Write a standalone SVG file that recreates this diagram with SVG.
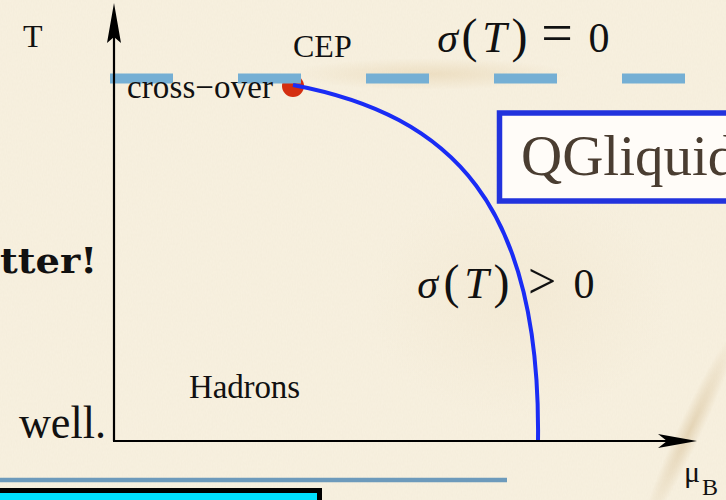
<svg xmlns="http://www.w3.org/2000/svg" width="726" height="500" viewBox="0 0 726 500">
  <style>
    .lbl { font-family: "Liberation Serif", "Times New Roman", serif; fill: #111; }
    .math { font-family: "Liberation Serif", "Times New Roman", serif; fill: #111; text-anchor: middle; }
    .it { font-style: italic; }
    .axis { stroke: #000; stroke-width: 2.2; fill: none; }
  </style>
  <defs>
    <filter id="paper" x="0" y="0" width="100%" height="100%">
      <feTurbulence type="fractalNoise" baseFrequency="0.8 0.35" numOctaves="2" seed="4" result="n"/>
      <feColorMatrix in="n" type="matrix" values="0 0 0 0 0.6  0 0 0 0 0.52  0 0 0 0 0.38  0 0 0 0.09 0"/>
    </filter>
    <radialGradient id="stain1" cx="0.5" cy="0.5" r="0.5">
      <stop offset="0" stop-color="#dcc08e" stop-opacity="0.35"/>
      <stop offset="1" stop-color="#dcc08e" stop-opacity="0"/>
    </radialGradient>
    <radialGradient id="stain2" cx="0.5" cy="0.5" r="0.5">
      <stop offset="0" stop-color="#c9ab78" stop-opacity="0.4"/>
      <stop offset="1" stop-color="#c9ab78" stop-opacity="0"/>
    </radialGradient>
  </defs>

  <!-- background -->
  <rect width="726" height="500" fill="#f8f1e0"/>
  <ellipse cx="430" cy="74" rx="140" ry="16" fill="url(#stain1)"/>
  <ellipse cx="0" cy="0" rx="12" ry="110" fill="url(#stain2)" transform="translate(690,430) rotate(25)"/>
  <ellipse cx="520" cy="300" rx="150" ry="120" fill="url(#stain1)" opacity="0.3"/>
  <rect width="726" height="500" filter="url(#paper)"/>

  <!-- connectors / lines -->
  <g id="connectors">
    <circle id="cep-dot" cx="293" cy="86" r="11" fill="#d42e10"/>
    <line id="crossover-line" x1="110" y1="78.5" x2="726" y2="78.5" stroke="#75afd4" stroke-width="10" stroke-dasharray="63 65"/>
    <path id="transition-curve" d="M293,85 C452,115 541,205 538,441" fill="none" stroke="#1a2cf5" stroke-width="4"/>
    <line id="y-axis" class="axis" x1="114" y1="441" x2="114" y2="20"/>
    <path d="M114,3 L121,43 L114,37 L107,43 Z" fill="#000"/>
    <line id="x-axis" class="axis" x1="113" y1="441" x2="680" y2="441"/>
    <path d="M697,441 L658,434 L667,441 L658,448 Z" fill="#000"/>
    <line x1="0" y1="480" x2="507" y2="480" stroke="#6d9abb" stroke-width="4.5"/>
  </g>

  <!-- labels -->
  <g id="label-T"><text class="lbl" x="23" y="47" font-size="32">T</text></g>
  <g id="label-CEP"><text class="lbl" x="293" y="57" font-size="32">CEP</text></g>
  <g id="label-crossover"><text class="lbl" x="127" y="98" font-size="33" textLength="146">cross−over</text></g>
  <g id="label-hadrons"><text class="lbl" x="189" y="398" font-size="33" textLength="111">Hadrons</text></g>

  <g id="label-sigma-zero">
    <text class="math it" x="447.5" y="52" font-size="42">σ</text>
    <text class="math" x="469.5" y="52" font-size="48">(</text>
    <text class="math it" x="494.5" y="52" font-size="44">T</text>
    <text class="math" x="519.5" y="52" font-size="48">)</text>
    <text class="math" x="557" y="52" font-size="56">=</text>
    <text class="math" x="599" y="52" font-size="42">0</text>
  </g>
  <g id="label-sigma-pos">
    <text class="math it" x="427.5" y="298" font-size="42">σ</text>
    <text class="math" x="451.5" y="298" font-size="48">(</text>
    <text class="math it" x="476.5" y="298" font-size="44">T</text>
    <text class="math" x="501.5" y="298" font-size="48">)</text>
    <text class="math" x="542" y="298" font-size="50">&gt;</text>
    <text class="math" x="584" y="298" font-size="42">0</text>
  </g>

  <g id="label-muB">
    <text class="lbl" x="684" y="482" font-size="30">μ</text>
    <text class="lbl" x="702" y="495" font-size="24">B</text>
  </g>

  <g id="node-qgliquid">
    <rect x="499.5" y="113" width="240" height="88" fill="#fffcf8" stroke="#2233dd" stroke-width="5.5"/>
    <text x="521" y="175" font-family="Liberation Serif, serif" font-size="57" fill="#4a3d31">QGliquid</text>
  </g>

  <g id="text-tter">
    <text x="0" y="273" font-family="DejaVu Serif, serif" font-weight="bold" font-size="36" fill="#111" textLength="97" lengthAdjust="spacingAndGlyphs">tter!</text>
  </g>
  <g id="text-well">
    <text x="19" y="438" font-family="Liberation Serif, serif" font-size="46" fill="#111" textLength="87" lengthAdjust="spacingAndGlyphs">well.</text>
  </g>

  <g id="cyan-box">
    <rect x="-5" y="490.5" width="324.5" height="20" fill="#00e0ff" stroke="#000" stroke-width="5"/>
  </g>
</svg>
